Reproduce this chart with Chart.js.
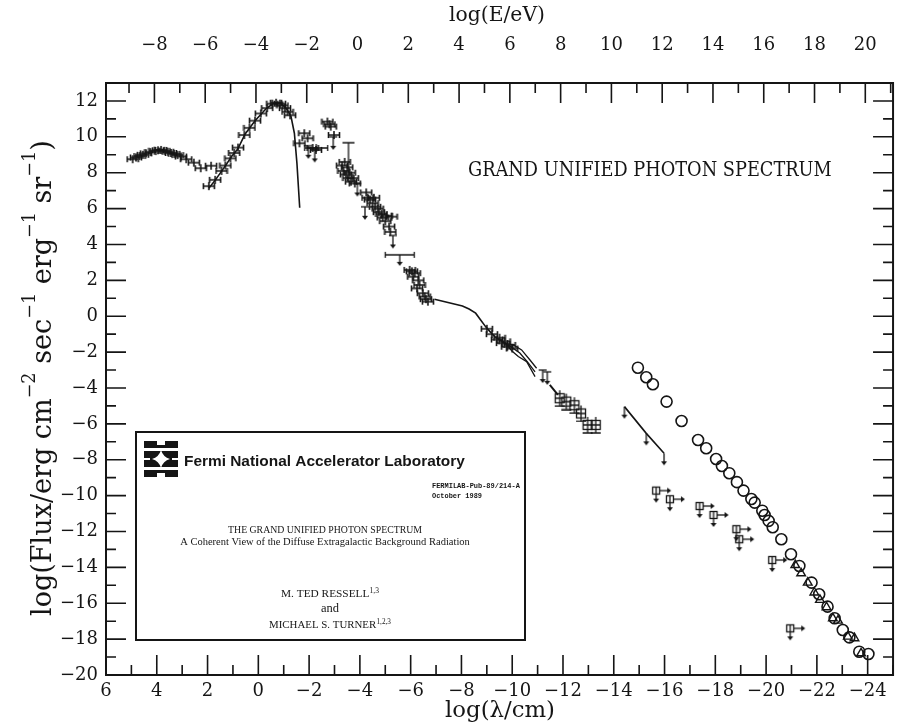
<!DOCTYPE html>
<html><head><meta charset="utf-8">
<script src="https://cdn.jsdelivr.net/npm/chart.js@4.4.1/dist/chart.umd.min.js"></script>
<style>html,body{margin:0;padding:0;background:#fff}</style>
</head><body>
<canvas id="c" width="904" height="728"></canvas>
<script>
// ---------- axis limits & ticks ----------
const lamMin = -25, lamMax = 6;          // log(lambda/cm), drawn reversed
const fluxMin = -20, fluxMax = 13;
const logHc = -3.907;                    // log(E/eV) = logHc - log(lambda/cm)
const lambdaTicks = [6,4,2,0,-2,-4,-6,-8,-10,-12,-14,-16,-18,-20,-22,-24];
const energyTicks = [-8,-6,-4,-2,0,2,4,6,8,10,12,14,16,18,20];
const fluxTicks = [-20,-18,-16,-14,-12,-10,-8,-6,-4,-2,0,2,4,6,8,10,12];

// ---------- data ----------
const radioLam  = [4.95,4.82,4.68,4.55,4.42,4.25,4.09,3.95,3.83,3.70,3.57,3.44,3.31,3.18,3.05,2.84,2.54,2.27,1.86];
const radioFlux = [8.75,8.85,8.93,9.00,9.08,9.15,9.23,9.25,9.27,9.22,9.17,9.10,9.05,8.98,8.90,8.75,8.56,8.25,8.39];

const cmbCurveLam  = [1.95,1.69,1.30,1.04,0.81,0.52,0.13,-0.32,-0.64,-0.88,-1.10,-1.29,-1.42,-1.52,-1.63];
const cmbCurveFlux = [7.13,7.60,8.38,8.93,9.32,10.16,10.90,11.59,11.90,11.87,11.59,11.12,10.20,8.53,6.05];
const cmbPtsLam  = [1.95,1.70,1.45,1.30,1.10,0.95,0.80,0.55,0.35,0.13,-0.10,-0.35,-0.55,-0.70,-0.85,-0.95,-1.05,-1.15,-1.25];
const cmbPtsFlux = [7.25,7.60,8.10,8.40,8.80,9.10,9.40,10.10,10.50,10.90,11.30,11.60,11.85,11.90,11.85,11.75,11.60,11.40,11.20];

const irLam  = [-1.62,-1.81,-1.94,-2.14,-2.27,-2.72,-2.80,-2.85,-2.98];
const irFlux = [9.64,10.20,9.92,9.38,9.27,10.85,10.70,10.57,10.10];
const irLimLam  = [-1.97,-2.22,-2.95];
const irLimFlux = [9.50,9.30,10.00];

const xrayLam  = [-3.30,-3.35,-3.40,-3.45,-3.50,-3.55,-3.60,-3.65,-3.72,-3.80,
                  -4.25,-4.30,-4.40,-4.50,-4.55,-4.60,-4.70,-4.75,-4.85,-4.90,-5.00,-5.05,-5.15,-5.25,-5.20,
                  -5.96,-6.05,-6.10,-6.16,-6.30,-6.35,-6.25,-6.48,-6.55,-6.60,-6.68];
const xrayFlux = [8.40,8.10,8.60,7.90,8.30,7.70,8.00,7.50,7.70,7.40,
                  6.90,6.60,6.50,6.30,6.60,6.10,6.00,5.80,5.70,5.50,5.30,5.60,5.00,5.55,4.70,
                  2.58,2.50,2.20,2.40,2.00,1.74,1.55,1.28,1.10,0.95,0.81];
const xrayTallLam = [-3.55], xrayTallFlux = [8.0];
const xrayLimLam  = [-3.90,-4.20,-5.30];
const xrayLimFlux = [7.40,6.10,4.50];
const xrayWideLimLam = [-5.57], xrayWideLimFlux = [3.42];

const gammaLam  = [-6.94,-8.04,-8.30,-8.56,-8.75,-8.95,-9.15,-9.34,-9.55,-9.73];
const gammaFlux = [0.95,0.57,0.40,0.17,-0.20,-0.58,-0.90,-1.17,-1.35,-1.51];
const branchALam = [-9.73,-10.05,-10.37,-10.70,-10.96], branchAFlux = [-1.51,-1.60,-1.88,-2.44,-2.90];
const branchBLam = [-9.73,-10.00,-10.30,-10.60,-10.90], branchBFlux = [-1.51,-1.75,-2.05,-2.55,-3.10];
const branchCLam = [-9.73,-10.00,-10.24,-10.57,-10.90], branchCFlux = [-1.51,-1.95,-2.25,-2.53,-3.37];
const gammaPtsLam  = [-9.00,-9.20,-9.40,-9.50,-9.60,-9.70,-9.80,-9.90,-10.00];
const gammaPtsFlux = [-0.70,-1.00,-1.30,-1.20,-1.50,-1.40,-1.70,-1.60,-1.80];
const gammaLimLam  = [-11.20,-11.38], gammaLimFlux = [-3.00,-3.10];
const wedgeLam = [-11.48,-11.80], wedgeFlux = [-3.83,-4.39];
const sqLam  = [-11.87,-12.13,-12.45,-12.71,-12.97,-13.29];
const sqFlux = [-4.57,-4.76,-4.96,-5.42,-6.06,-6.06];

const hegLam  = [-14.42,-15.28,-15.98];
const hegFlux = [-5.04,-6.53,-7.64];

const circLam  = [-14.95,-15.28,-15.54,-16.08,-16.67,-17.32,-17.64,-18.03,-18.26,-18.55,-18.85,-19.11,-19.42,-19.55,-19.85,-19.94,-20.10,-20.26,-20.60,-20.98,-21.31,-21.79,-22.09,-22.42,-22.70,-23.02,-23.28,-23.67,-24.03];
const circFlux = [-2.87,-3.40,-3.79,-4.76,-5.84,-6.90,-7.36,-7.96,-8.35,-8.75,-9.25,-9.72,-10.19,-10.39,-10.84,-11.08,-11.41,-11.76,-12.43,-13.27,-13.92,-14.85,-15.50,-16.19,-16.84,-17.49,-17.90,-18.70,-18.83];
const triLam  = [-21.15,-21.38,-21.64,-21.90,-22.12,-22.38,-22.63,-22.83,-23.22,-23.48,-23.74];
const triFlux = [-13.87,-14.33,-14.85,-15.40,-15.81,-16.22,-16.84,-16.97,-17.86,-17.95,-18.79];
const limSqLam  = [-15.67,-16.21,-17.38,-17.93,-18.83,-18.94,-20.24,-20.95];
const limSqFlux = [-9.72,-10.20,-10.58,-11.08,-11.87,-12.43,-13.59,-17.40];

// ---------- marker glyphs ----------
const INK = '#151515';
function mk(w, h, draw) {
  const c = document.createElement('canvas'); c.width = w; c.height = h;
  const g = c.getContext('2d'); g.strokeStyle = INK; g.fillStyle = INK; g.lineWidth = 1.3;
  draw(g, w / 2, h / 2); return c;
}
function arrowDown(g, x, y0, y1) {
  g.beginPath(); g.moveTo(x, y0); g.lineTo(x, y1 - 3); g.stroke();
  g.beginPath(); g.moveTo(x - 3, y1 - 4); g.lineTo(x + 3, y1 - 4); g.lineTo(x, y1); g.closePath(); g.fill();
}
function arrowRight(g, x0, x1, y) {
  g.beginPath(); g.moveTo(x0, y); g.lineTo(x1 - 3, y); g.stroke();
  g.beginPath(); g.moveTo(x1 - 4, y - 3); g.lineTo(x1 - 4, y + 3); g.lineTo(x1, y); g.closePath(); g.fill();
}
const ebar = mk(14, 10, (g, cx, cy) => {
  g.lineWidth = 1.6;
  g.beginPath(); g.moveTo(1, cy); g.lineTo(13, cy);
  g.moveTo(1.5, cy - 3); g.lineTo(1.5, cy + 3); g.moveTo(12.5, cy - 3); g.lineTo(12.5, cy + 3);
  g.moveTo(cx, cy - 4); g.lineTo(cx, cy + 4); g.stroke();
});
const ebarWide = mk(26, 10, (g, cx, cy) => {
  g.beginPath(); g.moveTo(1, cy); g.lineTo(25, cy);
  g.moveTo(1.5, cy - 3); g.lineTo(1.5, cy + 3); g.moveTo(24.5, cy - 3); g.lineTo(24.5, cy + 3);
  g.moveTo(cx, cy - 4); g.lineTo(cx, cy + 4); g.stroke();
});
const downLim = mk(12, 30, (g, cx, cy) => {
  g.beginPath(); g.moveTo(2, cy); g.lineTo(10, cy); g.stroke();
  arrowDown(g, cx, cy, cy + 13);
});
const wideDownLim = mk(34, 30, (g, cx, cy) => {
  g.beginPath(); g.moveTo(2, cy); g.lineTo(32, cy); g.moveTo(2.5, cy - 3); g.lineTo(2.5, cy + 3);
  g.moveTo(31.5, cy - 3); g.lineTo(31.5, cy + 3); g.stroke();
  arrowDown(g, cx, cy, cy + 11);
});
const tallBar = mk(14, 70, (g, cx, cy) => {
  g.beginPath(); g.moveTo(cx, cy); g.lineTo(cx, cy - 30); g.moveTo(cx - 6, cy - 30); g.lineTo(cx + 6, cy - 30); g.stroke();
});
const sqCross = mk(14, 18, (g, cx, cy) => {
  g.strokeRect(cx - 4.5, cy - 4.5, 9, 9);
  g.beginPath(); g.moveTo(cx, cy - 8); g.lineTo(cx, cy + 8); g.moveTo(cx - 4.5, cy); g.lineTo(cx + 4.5, cy);
  g.moveTo(cx - 5, cy + 8); g.lineTo(cx + 5, cy + 8); g.stroke();
});
const hegLim = mk(12, 30, (g, cx, cy) => { arrowDown(g, cx, cy, cy + 12); });
const sqLim = mk(44, 36, (g, cx, cy) => {
  g.strokeRect(cx - 3.5, cy - 3.5, 7, 7);
  g.beginPath(); g.moveTo(cx, cy - 3.5); g.lineTo(cx, cy + 3.5); g.stroke();
  arrowRight(g, cx + 3.5, cx + 15, cy);
  arrowDown(g, cx, cy + 3.5, cy + 12);
});

// ---------- helpers ----------
const pts = (xs, ys) => xs.map((v, i) => ({ x: v, y: ys[i] }));
const SERIF = "'DejaVu Serif', 'Liberation Serif', serif";
function scatterSet(xs, ys, style, extra) {
  return Object.assign({ type: 'scatter', data: pts(xs, ys), pointStyle: style, pointRadius: 5,
    borderColor: INK, backgroundColor: 'rgba(0,0,0,0)', pointBorderWidth: 1.5, showLine: false }, extra || {});
}
function lineSet(xs, ys, w) {
  return { type: 'scatter', data: pts(xs, ys), showLine: true, pointRadius: 0, borderColor: INK,
    borderWidth: w || 1.5, tension: 0, fill: false };
}

function fitText(ctx, text, x, y, width, family, weight, align) {
  let size = 30;
  ctx.fillStyle = INK;
  ctx.font = `${weight || ''} ${size}px ${family}`;
  size = size * width / ctx.measureText(text).width;
  ctx.font = `${weight || ''} ${size}px ${family}`;
  ctx.textAlign = align || 'left'; ctx.textBaseline = 'middle';
  ctx.fillText(text, x, y);
  return size;
}

function drawLogo(ctx, x, y) {
  const w = 34, h = 36, cx = x + w / 2, cy = y + h / 2;
  ctx.save();
  ctx.fillStyle = INK;
  ctx.fillRect(x, y, w, 7);
  ctx.fillRect(x, y + h - 7, w, 7);
  ctx.fillRect(x, y + 10, w, 16);
  ctx.fillStyle = '#fff';
  ctx.fillRect(x, y + 7, 12, 3); ctx.fillRect(x + w - 12, y + 7, 12, 3);
  ctx.fillRect(x, y + h - 10, 12, 3); ctx.fillRect(x + w - 12, y + h - 10, 12, 3);
  ctx.fillRect(x + 13, y, 8, 4); ctx.fillRect(x + 13, y + h - 4, 8, 4);
  ctx.beginPath();
  ctx.moveTo(cx, cy - 9); ctx.quadraticCurveTo(cx + 2, cy - 2, cx + 9, cy);
  ctx.quadraticCurveTo(cx + 2, cy + 2, cx, cy + 9);
  ctx.quadraticCurveTo(cx - 2, cy + 2, cx - 9, cy);
  ctx.quadraticCurveTo(cx - 2, cy - 2, cx, cy - 9);
  ctx.fill();
  ctx.fillRect(x, y + 17, 6, 2); ctx.fillRect(x + w - 6, y + 17, 6, 2);
  ctx.restore();
}

const deco = {
  id: 'deco',
  afterDatasetsDraw(chart) {
    const { ctx, chartArea: a, scales } = chart;
    const x = scales.x, xt = scales.xTop, y = scales.y;
    ctx.save();
    ctx.strokeStyle = INK; ctx.fillStyle = INK;
    ctx.lineWidth = 2;
    ctx.strokeRect(a.left, a.top, a.right - a.left, a.bottom - a.top);
    ctx.lineWidth = 1.6;
    ctx.beginPath();
    for (let v = Math.ceil(x.min); v <= Math.floor(x.max); v++) {
      const p = x.getPixelForValue(v), L = v % 2 === 0 ? 20 : 10;
      ctx.moveTo(p, a.bottom); ctx.lineTo(p, a.bottom - L);
    }
    for (let v = Math.ceil(xt.min); v <= Math.floor(xt.max); v++) {
      const p = xt.getPixelForValue(v), L = v % 2 === 0 ? 20 : 10;
      ctx.moveTo(p, a.top); ctx.lineTo(p, a.top + L);
    }
    for (let v = Math.ceil(y.min); v <= Math.floor(y.max); v++) {
      const p = y.getPixelForValue(v), L = v % 2 === 0 ? 20 : 10;
      ctx.moveTo(a.left, p); ctx.lineTo(a.left + L, p);
      ctx.moveTo(a.right, p); ctx.lineTo(a.right - L, p);
    }
    ctx.stroke();

    // axis titles
    fitText(ctx, 'log(E/eV)', 497, 16, 96, SERIF, '', 'center');
    fitText(ctx, 'log(λ/cm)', 500, 711, 110, SERIF, '', 'center');

    // y title with superscripts
    const segs = [['log(Flux/erg cm', 0], ['−2', 1], [' sec', 0], ['−1', 1], [' erg', 0], ['−1', 1], [' sr', 0], ['−1', 1], [')', 0]];
    const base = 20, sup = 13;
    let total = 0;
    segs.forEach(s => { ctx.font = `${s[1] ? sup : base}px ${SERIF}`; total += ctx.measureText(s[0]).width; });
    const target = 476, k = target / total;
    ctx.save();
    ctx.fillStyle = INK;
    ctx.translate(44, 378); ctx.rotate(-Math.PI / 2);
    let cur = -target / 2;
    ctx.textAlign = 'left'; ctx.textBaseline = 'alphabetic';
    segs.forEach(s => {
      ctx.font = `${(s[1] ? sup : base) * k}px ${SERIF}`;
      ctx.fillText(s[0], cur, s[1] ? -9 : 7);
      cur += ctx.measureText(s[0]).width;
    });
    ctx.restore();

    // big label
    fitText(ctx, 'GRAND UNIFIED PHOTON SPECTRUM', 468, 171, 364, "'DejaVu Serif Condensed', 'DejaVu Serif', serif", '', 'left');

    // inset box
    ctx.fillStyle = '#fff';
    ctx.fillRect(136, 432, 389, 208);
    ctx.lineWidth = 2; ctx.strokeStyle = INK;
    ctx.strokeRect(136, 432, 389, 208);
    drawLogo(ctx, 144, 441);
    fitText(ctx, 'Fermi National Accelerator Laboratory', 184, 462, 281, "'Liberation Sans', Arial, sans-serif", 'bold', 'left');
    fitText(ctx, 'FERMILAB-Pub-89/214-A', 432, 486, 88, "'Liberation Mono', 'DejaVu Sans Mono', monospace", 'bold', 'left');
    fitText(ctx, 'October 1989', 432, 496, 50, "'Liberation Mono', 'DejaVu Sans Mono', monospace", 'bold', 'left');
    fitText(ctx, 'THE GRAND UNIFIED PHOTON SPECTRUM', 325, 530, 194, "'Liberation Serif', serif", '', 'center');
    fitText(ctx, 'A Coherent View of the Diffuse Extragalactic Background Radiation', 325, 542, 290, "'Liberation Serif', serif", '', 'center');
    // authors with superscripts
    function author(name, supTxt, cx, cy, w) {
      ctx.fillStyle = INK;
      ctx.font = `9px 'Liberation Serif', serif`;
      const wn = ctx.measureText(name).width;
      ctx.font = `6px 'Liberation Serif', serif`;
      const ws = ctx.measureText(supTxt).width;
      const kk = w / (wn + ws);
      const left = cx - w / 2;
      ctx.textAlign = 'left'; ctx.textBaseline = 'alphabetic';
      ctx.font = `${9 * kk}px 'Liberation Serif', serif`;
      ctx.fillText(name, left, cy + 3);
      ctx.font = `${6 * kk}px 'Liberation Serif', serif`;
      ctx.fillText(supTxt, left + wn * kk, cy - 1);
    }
    author('M. TED RESSELL', '1,3', 330, 594, 98);
    fitText(ctx, 'and', 330, 609, 18, "'Liberation Serif', serif", '', 'center');
    author('MICHAEL S. TURNER', '1,2,3', 330, 625, 122);
    ctx.restore();
  }
};

const minus = v => (v < 0 ? '−' + Math.abs(v) : String(v));

const chart = new Chart(document.getElementById('c'), {
  type: 'scatter',
  data: {
    datasets: [
      scatterSet(radioLam, radioFlux, ebar),
      lineSet(cmbCurveLam, cmbCurveFlux, 1.6),
      scatterSet(cmbPtsLam, cmbPtsFlux, ebar),
      scatterSet(irLam, irFlux, ebar),
      scatterSet([-2.28], [9.38], ebarWide),
      scatterSet(irLimLam, irLimFlux, downLim),
      scatterSet(xrayLam, xrayFlux, ebar),
      scatterSet(xrayTallLam, xrayTallFlux, tallBar),
      scatterSet(xrayLimLam, xrayLimFlux, downLim),
      scatterSet(xrayWideLimLam, xrayWideLimFlux, wideDownLim),
      lineSet(gammaLam, gammaFlux, 1.6),
      lineSet(branchALam, branchAFlux, 1.3),
      lineSet(branchBLam, branchBFlux, 1.3),
      lineSet(branchCLam, branchCFlux, 1.3),
      scatterSet(gammaPtsLam, gammaPtsFlux, ebar),
      scatterSet(gammaLimLam, gammaLimFlux, downLim),
      lineSet(wedgeLam, wedgeFlux, 2),
      scatterSet(sqLam, sqFlux, sqCross),
      lineSet(hegLam, hegFlux, 1.6),
      scatterSet(hegLam, hegFlux, hegLim),
      scatterSet(circLam, circFlux, 'circle', { pointRadius: 5.5, pointBorderWidth: 1.6 }),
      scatterSet(triLam, triFlux, 'triangle', { pointRadius: 5, pointBorderWidth: 1.4 }),
      scatterSet(limSqLam, limSqFlux, sqLim)
    ]
  },
  options: {
    responsive: false, animation: false, devicePixelRatio: 1,
    layout: { padding: { left: 0, right: 3, top: 0, bottom: 0 } },
    plugins: { legend: { display: false }, tooltip: { enabled: false }, title: { display: false } },
    scales: {
      x: {
        type: 'linear', position: 'bottom', min: lamMin, max: lamMax, reverse: true,
        grid: { display: false, drawTicks: false }, border: { display: false },
        afterBuildTicks: s => { s.ticks = lambdaTicks.map(v => ({ value: v })); },
        afterFit: s => { s.height = 53; },
        ticks: { color: INK, font: { family: SERIF, size: 18 }, padding: 6, maxRotation: 0, autoSkip: false, callback: minus }
      },
      xTop: {
        type: 'linear', position: 'top', min: logHc - lamMax, max: logHc - lamMin,
        grid: { display: false, drawTicks: false }, border: { display: false },
        afterBuildTicks: s => { s.ticks = energyTicks.map(v => ({ value: v })); },
        afterFit: s => { s.height = 83; },
        ticks: { color: INK, font: { family: SERIF, size: 18 }, padding: 27, maxRotation: 0, autoSkip: false, callback: minus }
      },
      y: {
        type: 'linear', position: 'left', min: fluxMin, max: fluxMax,
        grid: { display: false, drawTicks: false }, border: { display: false },
        afterBuildTicks: s => { s.ticks = fluxTicks.map(v => ({ value: v })); },
        afterFit: s => { s.width = 106; },
        ticks: { color: INK, font: { family: SERIF, size: 18 }, padding: 8, autoSkip: false, callback: minus }
      }
    }
  },
  plugins: [deco]
});
</script>
</body></html>
